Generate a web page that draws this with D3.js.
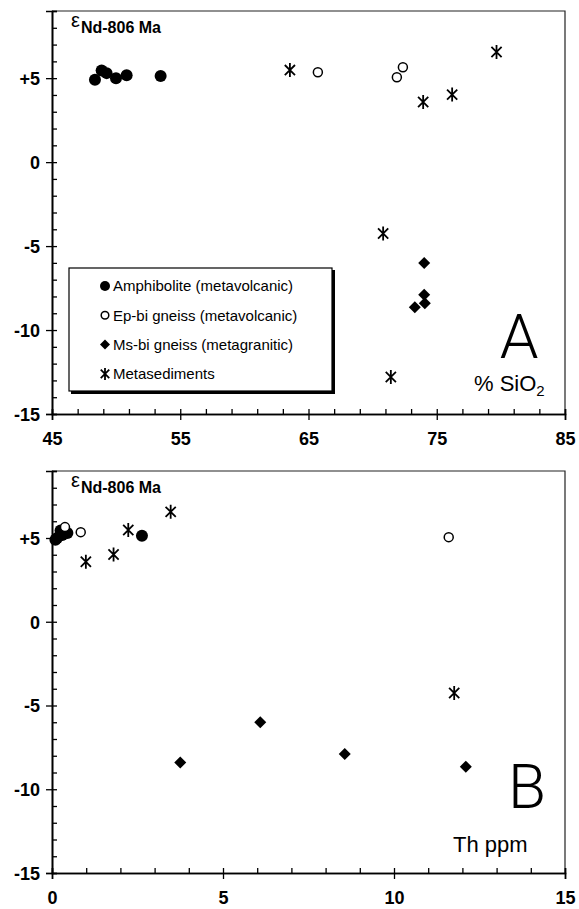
<!DOCTYPE html>
<html>
<head>
<meta charset="utf-8">
<script src="https://cdn.jsdelivr.net/npm/d3@7"></script>
<style>
  body { margin: 0; background: #fff; }
  svg { display: block; font-family: "Liberation Sans", Arial, sans-serif; }
</style>
</head>
<body>
<script>
// sample groups: SiO2 (%), Th (ppm), epsilon Nd at 806 Ma
const amphSiO2 = [48.35, 48.87, 49.26, 49.99, 50.82, 53.47];
const amphTh   = [0.1, 0.25, 0.45, 0.15, 0.3, 2.63];
const amphEps  = [4.9, 5.45, 5.3, 5.0, 5.18, 5.13];

const epbiSiO2 = [65.73, 72.36, 71.89];
const epbiTh   = [0.84, 0.38, 11.6];
const epbiEps  = [5.35, 5.65, 5.05];

const msbiSiO2 = [74.02, 74.02, 74.07, 73.29];
const msbiTh   = [6.09, 8.56, 3.75, 12.1];
const msbiEps  = [-6.0, -7.9, -8.4, -8.65];

const sedSiO2 = [63.55, 73.94, 76.2, 79.66, 70.82, 71.42];
const sedTh   = [2.23, 0.99, 1.8, 3.47, 11.76, null];
const sedEps  = [5.48, 3.58, 4.02, 6.56, -4.25, -12.8];

const groupNames = ["Amphibolite (metavolcanic)", "Ep-bi gneiss (metavolcanic)",
                    "Ms-bi gneiss (metagranitic)", "Metasediments"];

const epsTicks = [5, 0, -5, -10, -15];
const sio2Ticks = [45, 55, 65, 75, 85];
const thTicks = [0, 5, 10, 15];

const width = 579, height = 909;

const svg = d3.select("body").append("svg")
  .attr("width", width)
  .attr("height", height)
  .attr("viewBox", `0 0 ${width} ${height}`);

function markerPath(type, s) {
  if (type === "diamond") return `M0,${-s}L${s},0L0,${s}L${-s},0Z`;
  if (type === "star") {
    const d = s * 0.85;
    return `M0,${-s - 1}L0,${s + 1}M${-d},${-d}L${d},${d}M${-d},${d}L${d},${-d}`;
  }
  return d3.symbol(d3.symbolCircle, Math.PI * s * s)();
}

function drawMarker(g, type, x, y, s) {
  const p = g.append("path")
    .attr("d", markerPath(type, s))
    .attr("transform", `translate(${x},${y})`);
  if (type === "open") p.attr("fill", "#fff").attr("stroke", "#000").attr("stroke-width", 1.5);
  else if (type === "star") p.attr("fill", "none").attr("stroke", "#000").attr("stroke-width", 1.8);
  else p.attr("fill", "#000");
}

const groups = [
  { type: "filled", sio2: amphSiO2, th: amphTh, eps: amphEps, size: 6 },
  { type: "open", sio2: epbiSiO2, th: epbiTh, eps: epbiEps, size: 4.5 },
  { type: "diamond", sio2: msbiSiO2, th: msbiTh, eps: msbiEps, size: 6 },
  { type: "star", sio2: sedSiO2, th: sedTh, eps: sedEps, size: 6 }
];

function drawPanel(cfg) {
  const left = 52, right = 565;
  const x = d3.scaleLinear().domain(cfg.xDomain).range([left, right]);
  const y = d3.scaleLinear().domain([-15, 9]).range([cfg.bottom, cfg.top]);
  const g = svg.append("g");

  // frame top/right
  g.append("path")
    .attr("d", `M${left},${cfg.top}H${right}V${cfg.bottom}`)
    .attr("fill", "none").attr("stroke", "#222").attr("stroke-width", 1.2);

  const fmt = d => d > 0 ? "+" + d : String(d);

  // y axis: majors outside with labels, minors inside
  const yMaj = g.append("g").attr("transform", `translate(${left},0)`)
    .call(d3.axisLeft(y).tickValues(epsTicks).tickSize(6).tickFormat(fmt));
  g.append("g").attr("transform", `translate(${left},0)`)
    .call(d3.axisRight(y).tickValues(d3.range(-15, 10, 1)).tickSize(5).tickFormat(""));
  yMaj.selectAll("text").attr("x", -12).attr("dy", "0.36em")
    .style("font-size", "18px").style("font-weight", "bold").attr("fill", "#000");

  // x axis
  const xMaj = g.append("g").attr("transform", `translate(0,${cfg.bottom})`)
    .call(d3.axisBottom(x).tickValues(cfg.xTicks).tickSize(6).tickFormat(d3.format("d")));
  g.append("g").attr("transform", `translate(0,${cfg.bottom})`)
    .call(d3.axisTop(x).tickValues(d3.range(cfg.xDomain[0], cfg.xDomain[1] + 0.01, cfg.minor)).tickSize(5).tickFormat(""));
  xMaj.selectAll("text").attr("y", 18).attr("dy", "0.71em")
    .style("font-size", "18px").style("font-weight", "bold").attr("fill", "#000");

  g.selectAll(".domain").attr("stroke", "#000").attr("stroke-width", 1.6);
  g.selectAll(".tick line").attr("stroke", "#000").attr("stroke-width", 1.3);

  // epsilon label
  const lab = g.append("text").attr("x", 71).attr("y", cfg.top + 16).attr("fill", "#000");
  lab.append("tspan").text("ε").style("font-size", "20px");
  lab.append("tspan").attr("y", cfg.top + 22).attr("dx", 1).text("Nd-806 Ma")
    .style("font-size", "16px").style("font-weight", "bold");

  // points
  const pts = g.append("g");
  groups.forEach(grp => {
    grp.eps.forEach((e, i) => {
      const v = grp[cfg.key][i];
      if (v == null) return;
      drawMarker(pts, grp.type, x(v), y(e), grp.size);
    });
  });

  // big panel letter
  g.append("text").attr("x", cfg.letterX).attr("y", cfg.letterY)
    .attr("text-anchor", "middle")
    .style("font-family", "Roboto, 'Liberation Sans', sans-serif")
    .style("font-weight", 300).style("font-size", "62px")
    .text(cfg.letter);

  // axis title
  const t = g.append("text").attr("x", cfg.titleX).attr("y", cfg.titleY)
    .style("font-size", "22px").attr("fill", "#000");
  t.append("tspan").text(cfg.title);
  if (cfg.sub) t.append("tspan").attr("dy", 5).style("font-size", "15px").text(cfg.sub);

  return { g, x, y };
}

const A = drawPanel({
  top: 11, bottom: 414, xDomain: [45, 85], xTicks: sio2Ticks, minor: 2, key: "sio2",
  letter: "A", letterX: 519, letterY: 358, title: "% SiO", sub: "2", titleX: 474, titleY: 391
});

drawPanel({
  top: 471, bottom: 873, xDomain: [0, 15], xTicks: thTicks, minor: 1, key: "th",
  letter: "B", letterX: 527, letterY: 808, title: "Th ppm", titleX: 453, titleY: 852
});

// legend in panel A
const leg = A.g.append("g");
leg.append("rect").attr("x", 71).attr("y", 270).attr("width", 264).attr("height", 124).attr("fill", "#000");
leg.append("rect").attr("x", 69).attr("y", 268).attr("width", 263).attr("height", 123)
  .attr("fill", "#fff").attr("stroke", "#000").attr("stroke-width", 1.2);
groups.forEach((grp, i) => {
  const cy = 286 + i * 29.3;
  drawMarker(leg, grp.type, 105, cy, grp.type === "open" ? 3.8 : 5);
  leg.append("text").attr("x", 113).attr("y", cy).attr("dy", "0.36em")
    .style("font-size", "15px").attr("fill", "#000").text(groupNames[i]);
});
</script>
</body>
</html>
